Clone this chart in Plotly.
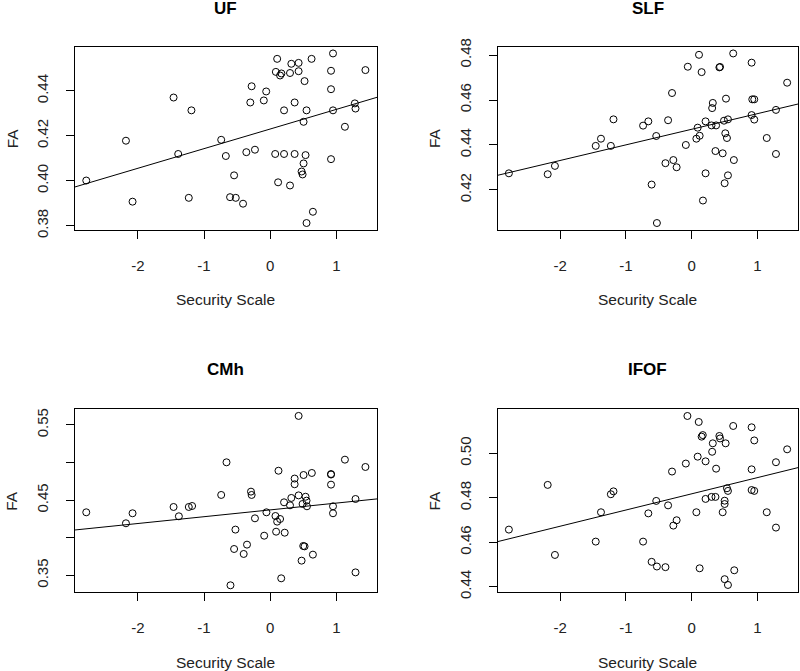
import plotly.graph_objects as go

# ---------------- data ----------------
UF_x = [-2.78, -2.18, -2.08, -1.46, -1.39, -1.19, -1.23, -0.74, -0.67, -0.545,
        -0.606, -0.52, -0.41, -0.36, -0.23, -0.28, -0.30, -0.096, -0.06, 0.076,
        0.106, 0.086, 0.15, 0.17, 0.12, 0.21, 0.21, 0.30, 0.32, 0.30,
        0.37, 0.37, 0.43, 0.43, 0.52, 0.505, 0.55, 0.535, 0.505, 0.475,
        0.49, 0.55, 0.646, 0.626, 0.92, 0.95, 0.92, 0.95, 0.92, 1.13,
        1.28, 1.29, 1.44]
UF_y = [0.4001, 0.4178, 0.3907, 0.4370, 0.4119, 0.4313, 0.3924, 0.4182, 0.4110, 0.4024,
        0.3927, 0.3924, 0.3898, 0.4127, 0.4138, 0.4420, 0.4348, 0.4357, 0.4397, 0.4119,
        0.4542, 0.4484, 0.4468, 0.4477, 0.3993, 0.4313, 0.4119, 0.4479, 0.4520, 0.3979,
        0.4348, 0.4119, 0.4524, 0.4487, 0.4443, 0.4262, 0.4313, 0.4114, 0.4077, 0.4041,
        0.4028, 0.3812, 0.3862, 0.4542, 0.4489, 0.4566, 0.4407, 0.4313, 0.4096, 0.4240,
        0.4344, 0.4321, 0.4492]

SLF_x = [-2.78, -2.19, -2.08, -1.46, -1.38, -1.23, -1.19, -0.74, -0.66, -0.61,
         -0.54, -0.53, -0.40, -0.36, -0.30, -0.28, -0.23, -0.09, -0.06, 0.07,
         0.09, 0.12, 0.11, 0.15, 0.17, 0.21, 0.21, 0.31, 0.32, 0.30,
         0.37, 0.36, 0.42, 0.43, 0.47, 0.50, 0.51, 0.52, 0.49, 0.55,
         0.535, 0.55, 0.63, 0.64, 0.91, 0.92, 0.95, 0.91, 0.95, 1.14,
         1.28, 1.28, 1.45]
SLF_y = [0.4274, 0.4270, 0.4307, 0.4396, 0.4428, 0.4396, 0.4514, 0.4486, 0.4505, 0.4224,
         0.4440, 0.4053, 0.4319, 0.4510, 0.4631, 0.4333, 0.4301, 0.4400, 0.4748, 0.4428,
         0.4477, 0.4441, 0.4801, 0.4724, 0.4153, 0.4274, 0.4505, 0.4564, 0.4587, 0.4487,
         0.4487, 0.4373, 0.4745, 0.4747, 0.4363, 0.4230, 0.4452, 0.4606, 0.4508, 0.4514,
         0.4431, 0.4265, 0.4807, 0.4333, 0.4766, 0.4603, 0.4603, 0.4533, 0.4513, 0.4431,
         0.4556, 0.4360, 0.4677]

CMh_x = [-2.78, -2.18, -2.08, -1.46, -1.38, -1.23, -1.18, -0.74, -0.66, -0.525,
         -0.545, -0.35, -0.40, -0.60, -0.29, -0.28, -0.23, -0.09, -0.056, 0.08,
         0.106, 0.15, 0.09, 0.22, 0.126, 0.167, 0.21, 0.30, 0.32, 0.43,
         0.535, 0.49, 0.55, 0.556, 0.37, 0.37, 0.43, 0.505, 0.63, 0.50,
         0.52, 0.646, 0.475, 0.92, 0.92, 0.92, 0.95, 0.95, 1.13, 1.29,
         1.29, 1.44]
CMh_y = [0.4338, 0.4192, 0.4325, 0.4409, 0.4285, 0.4409, 0.4422, 0.4569, 0.5003, 0.4108,
         0.3850, 0.3908, 0.3784, 0.3367, 0.4613, 0.4569, 0.4258, 0.4027, 0.4338, 0.4289,
         0.4214, 0.4249, 0.4080, 0.4067, 0.4891, 0.3460, 0.4471, 0.4431, 0.4529, 0.4563,
         0.4545, 0.4449, 0.4493, 0.4418, 0.4787, 0.4711, 0.5620, 0.4834, 0.4861, 0.3890,
         0.3885, 0.3775, 0.3695, 0.4847, 0.4840, 0.4706, 0.4418, 0.4325, 0.5038, 0.4515,
         0.3539, 0.4941]

IFOF_x = [-2.78, -2.19, -2.08, -1.46, -1.38, -1.23, -1.19, -0.74, -0.66, -0.61,
          -0.53, -0.40, -0.54, -0.36, -0.30, -0.28, -0.23, -0.09, -0.066, 0.07,
          0.09, 0.106, 0.12, 0.15, 0.167, 0.21, 0.21, 0.31, 0.32, 0.30,
          0.36, 0.37, 0.42, 0.43, 0.515, 0.47, 0.50, 0.50, 0.535, 0.55,
          0.50, 0.55, 0.63, 0.646, 0.91, 0.95, 0.91, 0.91, 0.95, 1.14,
          1.28, 1.28, 1.45]
IFOF_y = [0.4657, 0.4858, 0.4543, 0.4603, 0.4735, 0.4816, 0.4829, 0.4603, 0.4730, 0.4512,
          0.4491, 0.4488, 0.4786, 0.4766, 0.4918, 0.4675, 0.4699, 0.4954, 0.5168, 0.4735,
          0.4985, 0.5141, 0.4483, 0.5075, 0.5082, 0.4964, 0.4795, 0.5007, 0.5045, 0.4804,
          0.4804, 0.4931, 0.5078, 0.5067, 0.5045, 0.4735, 0.4772, 0.4787, 0.4843, 0.4831,
          0.4434, 0.4408, 0.5123, 0.4474, 0.5117, 0.5058, 0.4928, 0.4835, 0.4831, 0.4735,
          0.4960, 0.4666, 0.5018]

# fitted regression lines (intercept, slope)
UF_fit = (0.4230, 0.00873)
SLF_fit = (0.4470, 0.00694)
CMh_fit = (0.4370, 0.00905)
IFOF_fit = (0.4818, 0.00729)

titles = ["UF", "SLF", "CMh", "IFOF"]
x_ticks = [-2, -1, 0, 1]
x_tick_labels = ["-2", "-1", "0", "1"]
UF_yticks = [0.38, 0.40, 0.42, 0.44]
UF_ylabels = ["0.38", "0.40", "0.42", "0.44"]
SLF_yticks = [0.42, 0.44, 0.46, 0.48]
SLF_ylabels = ["0.42", "0.44", "0.46", "0.48"]
CMh_yticks = [0.35, 0.40, 0.45, 0.50, 0.55]
CMh_ylabels = ["0.35", "", "0.45", "", "0.55"]
IFOF_yticks = [0.44, 0.46, 0.48, 0.50]
IFOF_ylabels = ["0.44", "0.46", "0.48", "0.50"]
x_label = "Security Scale"
y_label = "FA"

# ---------------- layout geometry ----------------
W, H = 800, 671
x_range = [-2.95, 1.615]
y_ranges = [[0.3781, 0.4596], [0.4022, 0.4837], [0.3274, 0.5708], [0.4375, 0.5198]]
col_px = [(75, 377), (497.7, 798)]
row_px = [(46.7, 230), (409.3, 592.3)]

FONT = "Liberation Sans, Arial, sans-serif"
TXT = "#222222"

panels = [
    (UF_x, UF_y, UF_fit, UF_yticks, UF_ylabels),
    (SLF_x, SLF_y, SLF_fit, SLF_yticks, SLF_ylabels),
    (CMh_x, CMh_y, CMh_fit, CMh_yticks, CMh_ylabels),
    (IFOF_x, IFOF_y, IFOF_fit, IFOF_yticks, IFOF_ylabels),
]

fig = go.Figure()
layout = dict(
    template="none",
    width=W, height=H, margin=dict(l=0, r=0, t=0, b=0, pad=0, autoexpand=False),
    paper_bgcolor="white", plot_bgcolor="white", showlegend=False,
    font=dict(family=FONT, color=TXT, size=15),
)
annotations = []

for i, (xs, ys, fit, yt, yl) in enumerate(panels):
    r, c = divmod(i, 2)
    n = i + 1
    xa = "x" if n == 1 else f"x{n}"
    ya = "y" if n == 1 else f"y{n}"
    x0, x1 = col_px[c]
    t0, t1 = row_px[r]
    xdom = [x0 / W, x1 / W]
    ydom = [1 - t1 / H, 1 - t0 / H]

    fig.add_trace(go.Scatter(
        x=xs, y=ys, mode="markers", xaxis=xa, yaxis=ya,
        marker=dict(symbol="circle-open", size=7, color="black",
                    line=dict(width=1, color="black")),
        hoverinfo="x+y"))
    b0, b1 = fit
    lx = [x_range[0], x_range[1]]
    fig.add_trace(go.Scatter(
        x=lx, y=[b0 + b1 * v for v in lx], mode="lines", xaxis=xa, yaxis=ya,
        line=dict(color="black", width=1), hoverinfo="skip"))

    common = dict(showline=True, linecolor="black", linewidth=1, mirror=True,
                  showgrid=False, zeroline=False, ticks="outside", ticklen=8,
                  tickwidth=1, tickcolor="black", automargin=False,
                  tickfont=dict(family=FONT, size=15, color=TXT))
    layout["xaxis" if n == 1 else f"xaxis{n}"] = dict(
        domain=xdom, range=x_range, anchor=ya, tickmode="array",
        tickvals=x_ticks, ticktext=x_tick_labels, ticklabelstandoff=14, **common)
    layout["yaxis" if n == 1 else f"yaxis{n}"] = dict(
        domain=ydom, range=y_ranges[i], anchor=xa, tickmode="array",
        tickvals=yt, ticktext=yl, tickangle=-90, ticklabelstandoff=12, **common)

    cx = (x0 + x1) / 2 / W
    annotations.append(dict(text=f"<b>{titles[i]}</b>", x=cx, y=1 - (9 if r == 0 else 370) / H,
                            xref="paper", yref="paper", showarrow=False,
                            xanchor="center", yanchor="middle",
                            font=dict(family=FONT, size=17, color="black")))
    annotations.append(dict(text=x_label, x=cx, y=1 - (299 if r == 0 else 662) / H,
                            xref="paper", yref="paper", showarrow=False,
                            xanchor="center", yanchor="middle",
                            font=dict(family=FONT, size=15.5, color=TXT)))
    annotations.append(dict(text=y_label, x=(x0 - 63) / W, y=1 - (t0 + t1) / 2 / H,
                            xref="paper", yref="paper", showarrow=False, textangle=-90,
                            xanchor="center", yanchor="middle",
                            font=dict(family=FONT, size=15.5, color=TXT)))

layout["annotations"] = annotations
fig.update_layout(**layout)
fig.write_html(
    "out.html",
    config={"displayModeBar": False},
    post_script="document.body.style.margin='0';document.body.style.padding='0';"
                "document.body.style.overflow='hidden';",
)
